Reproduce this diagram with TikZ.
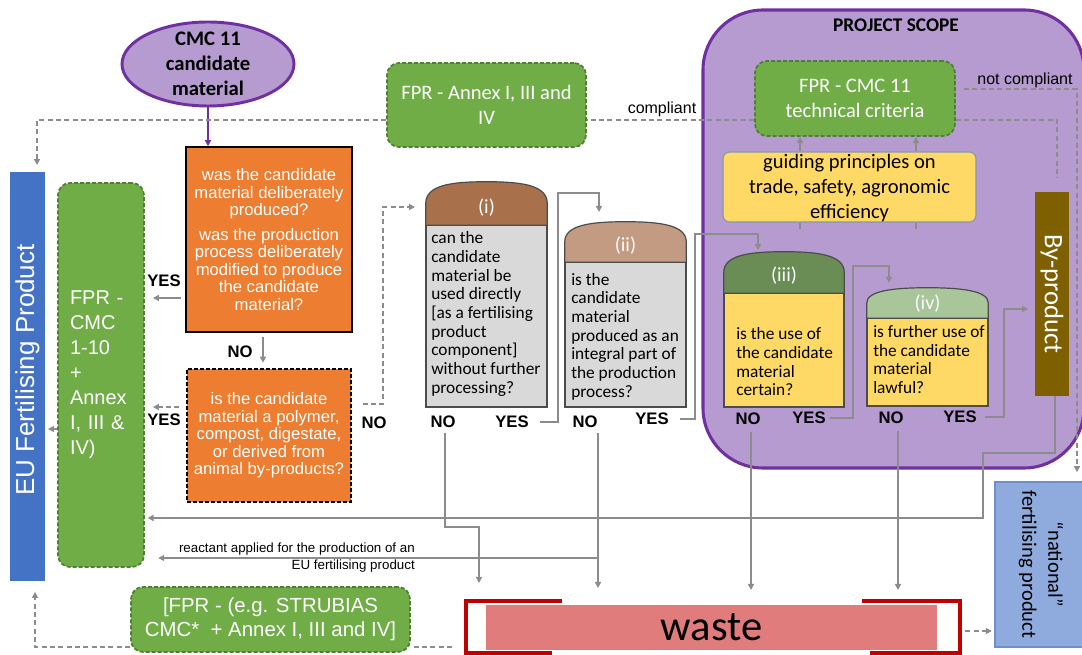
\documentclass[tikz,border=0pt]{standalone}
\usepackage{fontspec}
\setmainfont{Carlito}
\newfontfamily\arialf{Liberation Sans}
\usetikzlibrary{arrows.meta,shapes.geometric,calc}
\newcommand\myfs[2]{\fontsize{#1}{#2}\selectfont}
\definecolor{cpurpleL}{HTML}{B59BD0}
\definecolor{cpurpleD}{HTML}{7030A0}
\definecolor{corange}{HTML}{ED7D31}
\definecolor{cgreen}{HTML}{70AD47}
\definecolor{cgreenD}{HTML}{507E32}
\definecolor{cblue}{HTML}{4472C4}
\definecolor{cgray}{HTML}{8C8C8C}
\definecolor{cyellow}{HTML}{FFD966}
\definecolor{cguideB}{HTML}{8497B0}
\definecolor{cbrown}{HTML}{7F6000}
\definecolor{cnat}{HTML}{8FAADC}
\definecolor{cnatB}{HTML}{6E8FC8}
\definecolor{ccapA}{HTML}{A9714B}
\definecolor{ccapB}{HTML}{C39B83}
\definecolor{ccapC}{HTML}{6A8C55}
\definecolor{ccapD}{HTML}{A9C59A}
\definecolor{cbody}{HTML}{D9D9D9}
\definecolor{cpink}{HTML}{E07C7C}
\definecolor{cred}{HTML}{C00000}
\tikzset{
 gline/.style={draw=cgray, line width=1.3pt},
 arr/.style={-{Triangle[length=4.5pt,width=4.5pt]}},
 dline/.style={draw=cgray, line width=1.3pt, dash pattern=on 3.75pt off 2.5pt},
 gbox/.style={draw=cgreenD, fill=cgreen, line width=1.3pt, dash pattern=on 3pt off 1.5pt, rounded corners=9pt, text=white, align=center, inner sep=0pt},
 obox/.style={fill=corange, draw=black, line width=1.2pt, text=white, align=center, inner sep=0pt, font=\arialf\myfs{12.5}{13.1}},
 yn/.style={font=\arialf\bfseries\myfs{12.5}{14}, inner sep=0pt},
 capnode/.style={inner sep=0pt},
 caplbl/.style={text=white, font=\myfs{15}{18}, inner sep=0pt},
 capline/.style={draw=black!70, line width=0.9pt},
 qbody/.style={draw=black!70, line width=0.9pt, inner sep=0pt},
 qtext/.style={align=left, anchor=west, font=\myfs{13}{14}, inner sep=0pt},
 redbracket/.style={draw=cred, line width=3pt},
}
\newcommand\capshape[2]{%
 \draw[capline, fill=#2] (#1.south west) -- ($(#1.south west)!0.5!(#1.north west)$)
  .. controls ($(#1.north west)+(0,3)$) and ($(#1.north west)!0.22!(#1.north east)$) .. (#1.north)
  .. controls ($(#1.north east)!0.22!(#1.north west)$) and ($(#1.north east)+(0,3)$) .. ($(#1.south east)!0.5!(#1.north east)$)
  -- (#1.south east) -- cycle;}
\begin{document}
\begin{tikzpicture}[x=0.75pt,y=-0.75pt]
\useasboundingbox (0,0) rectangle (1082,655);
\fill[white] (0,0) rectangle (1082,655);

% project scope
\node[draw=cpurpleD, fill=cpurpleL, line width=2.3pt, rounded corners=45pt, minimum width=381*0.75pt, minimum height=458*0.75pt, inner sep=0pt] (scope) at (893.5,239) {};
\node[font=\bfseries\myfs{14.5}{17}, inner sep=0pt] (scopelbl) at (896,25) {PROJECT SCOPE};

% candidate ellipse
\node[ellipse, draw=cpurpleD, fill=cpurpleL, line width=2.2pt, minimum width=172*0.75pt, minimum height=84*0.75pt, inner sep=0pt] (cand) at (208,64) {};
\node[align=center, font=\bfseries\myfs{15.5}{18.75}, inner sep=0pt] (candtxt) at (cand.center) {CMC 11\\candidate\\material};

% orange questions
\node[obox, minimum width=166*0.75pt, minimum height=185*0.75pt] (q1) at (269,239.5) {was the candidate\\material deliberately\\produced?\\[5.6pt]was the production\\process deliberately\\modified to produce\\the candidate\\material?};
\node[obox, dash pattern=on 3pt off 1.5pt, line width=1.5pt, minimum width=164*0.75pt, minimum height=133*0.75pt] (q2) at (269,435.5) {is the candidate\\material a polymer,\\compost, digestate,\\or derived from\\animal by-products?};

% EU fertilising product bar
\node[fill=cblue, minimum width=35*0.75pt, minimum height=409*0.75pt, inner sep=0pt] (blue) at (27.5,376.5) {};
\node[rotate=90, text=white, font=\arialf\myfs{19.5}{24}, inner sep=0pt] (bluetxt) at (27.5,370) {EU Fertilising Product};

% green boxes
\node[gbox, minimum width=86*0.75pt, minimum height=384*0.75pt, align=left, text width=62*0.75pt, font=\arialf\myfs{15}{18.75}] (fpr10) at (101,375) {FPR -\\CMC\\1-10\\+\\Annex\\I, III \&\\IV)};
\node[gbox, minimum width=199*0.75pt, minimum height=84*0.75pt, font=\myfs{15.4}{18.75}] (annex) at (486.5,105) {FPR - Annex I, III and\\IV};
\node[gbox, minimum width=200*0.75pt, minimum height=75*0.75pt, font=\myfs{15.4}{18.75}] (cmc11) at (855,98.5) {FPR - CMC 11\\technical criteria};
\node[gbox, minimum width=279*0.75pt, minimum height=65*0.75pt, font=\arialf\myfs{15.3}{18}] (strub) at (270.5,619.5) {[FPR - (e.g. STRUBIAS\\CMC*\ \ + Annex I, III and IV]};

% guiding principles
\node[draw=cguideB, fill=cyellow, line width=0.8pt, rounded corners=5pt, minimum width=253*0.75pt, minimum height=70*0.75pt, inner sep=0pt] (guide) at (849.5,187) {};
\node[font=\myfs{15.4}{18.75}, align=center, inner sep=0pt] (guidetxt) at (849.5,188) {guiding principles on\\trade, safety, agronomic\\efficiency};

% by-product
\node[fill=cbrown, minimum width=34*0.75pt, minimum height=204*0.75pt, inner sep=0pt] (byprod) at (1052,294) {};
\node[rotate=-90, text=white, font=\myfs{20}{24}, inner sep=0pt] (byptxt) at (byprod.center) {By-product};

% national
\node[draw=cnatB, fill=cnat, line width=0.8pt, minimum width=91*0.75pt, minimum height=165*0.75pt, inner sep=0pt] (natl) at (1040.5,564.5) {};
\node[rotate=-90, font=\myfs{15.4}{19.5}, align=center, inner sep=0pt] (natltxt) at (1041,564.5) {“national”\\fertilising product};

% cylinders (i)-(iv)
\node[qbody, fill=cbody, minimum width=121*0.75pt, minimum height=182*0.75pt] (b1) at (486.5,316) {};
\node[capnode, minimum width=121*0.75pt, minimum height=43*0.75pt] (c1) at (486.5,203.5) {};
\capshape{c1}{ccapA}
\node[caplbl] (l1) at (486.5,208) {(i)};
\node[qtext] (t1) at (431,314) {can the\\candidate\\material be\\used directly\\{}[as a fertilising\\product\\component]\\without further\\processing?};

\node[qbody, fill=cbody, minimum width=121*0.75pt, minimum height=145*0.75pt] (b2) at (625.5,334.5) {};
\node[capnode, minimum width=121*0.75pt, minimum height=40*0.75pt] (c2) at (625.5,242) {};
\capshape{c2}{ccapB}
\node[caplbl] (l2) at (625.5,246) {(ii)};
\node[qtext] (t2) at (571,336.5) {is the\\candidate\\material\\produced as an\\integral part of\\the production\\process?};

\node[qbody, fill=cyellow, minimum width=120*0.75pt, minimum height=114*0.75pt] (b3) at (784,350) {};
\node[capnode, minimum width=120*0.75pt, minimum height=41*0.75pt] (c3) at (784,272.5) {};
\capshape{c3}{ccapC}
\node[caplbl] (l3) at (784,276) {(iii)};
\node[qtext] (t3) at (736,362) {is the use of\\the candidate\\material\\certain?};

\node[qbody, fill=cyellow, minimum width=121*0.75pt, minimum height=88*0.75pt] (b4) at (927.5,362) {};
\node[capnode, minimum width=121*0.75pt, minimum height=30*0.75pt] (c4) at (927.5,303) {};
\capshape{c4}{ccapD}
\node[caplbl] (l4) at (927.5,304) {(iv)};
\node[qtext] (t4) at (873,359.5) {is further use of\\the candidate\\material\\lawful?};

% waste
\node[fill=cpink, minimum width=451*0.75pt, minimum height=45*0.75pt, inner sep=0pt, font=\myfs{32}{36}] (waste) at (711.5,627.5) {waste};
\draw[redbracket] (562,601) -- (466,601) -- (466,653) -- (552,653);
\draw[redbracket] (862,601) -- (960,601) -- (960,653) -- (870,653);

% YES / NO labels
\node[yn] (y1) at (164,281) {YES};
\node[yn] (y2) at (164,420) {YES};
\node[yn] (n1) at (240,352) {NO};
\node[yn] (n2) at (374,423) {NO};
\node[yn] (nA) at (443,422) {NO};
\node[yn] (yA) at (512,422) {YES};
\node[yn] (nB) at (585,422) {NO};
\node[yn] (yB) at (652,419) {YES};
\node[yn] (nC) at (748,419) {NO};
\node[yn] (yC) at (809,418) {YES};
\node[yn] (nD) at (891,418) {NO};
\node[yn] (yD) at (960,417) {YES};

% text labels
\node[font=\arialf\myfs{12}{14}, inner sep=0pt] (compl) at (662,109) {compliant};
\node[font=\arialf\myfs{12}{14}, inner sep=0pt] (ncompl) at (1025,80) {not compliant};
\node[font=\arialf\myfs{10}{12.75}, align=right, anchor=east, inner sep=0pt] (react) at (415,557.5) {reactant applied for the production of an\\EU fertilising product};

% connectors
\draw[draw=cpurpleD, line width=1.5pt, arr] (cand.south) -- (cand.south |- q1.north);
\draw[gline, arr, shorten <=3pt, shorten >=6pt] (q1.west |- 0,298) -- (fpr10.east |- 0,298);
\draw[gline, arr, shorten <=3pt, shorten >=4pt] (263,0 |- q1.south) -- (263,0 |- q2.north);
\draw[dline, arr, shorten <=5pt, shorten >=6pt] (q2.west |- 0,407) -- (fpr10.east |- 0,407);
\draw[dline, arr, shorten <=8pt, shorten >=8pt] (q2.east |- 0,404) -- (383,404) -- (383,207) -- (c1.west |- 0,207);

\draw[gline, arr, shorten <=8pt] (yA.east) -| (558,193) -| (599,212);
\draw[gline, arr, shorten <=8pt] (yB.east) -| (695,234) -| (758,250);
\draw[gline, arr, shorten <=3pt] (yC.east) -| (853,266) -| (889,283);
\draw[gline, arr, shorten <=6pt, shorten >=5pt] (yD.east) -| (1004,309) -- (byprod.west |- 0,309);
\draw[gline, arr, shorten >=2pt] (1055,0 |- byprod.south) -- (1055,453) -| (983,518) -- (fpr10.east |- 0,518);

\draw[gline, arr, shorten <=4pt] (445,0 |- nA.south) -- (445,527) -| (479,583);
\draw[gline, arr, shorten <=4pt] (598,0 |- nB.south) -- (598,588);
\draw[gline, arr, shorten >=10pt] (598,558) -- (fpr10.east |- 0,558);
\draw[gline, arr, shorten <=5pt] (751,0 |- nC.south) -- (751,590);
\draw[gline, arr, shorten <=5pt] (898,0 |- nD.south) -- (898,590);

\draw[gline, arr] (800,0 |- guide.north) -- (800,0 |- cmc11.south);
\draw[gline, arr] (916,0 |- guide.north) -- (916,0 |- cmc11.south);
\draw[gline] (800,0 |- guide.south) -- ++(0,6);
\draw[gline] (916,0 |- guide.south) -- ++(0,6);

\draw[dline] (cmc11.west |- 0,120) -- (annex.east |- 0,120);
\draw[dline, arr, shorten >=5pt] (annex.west |- 0,120) -| (37,0 |- blue.north);
\draw[dline, arr, shorten <=6pt, shorten >=7pt] (cmc11.east |- 0,89) -| (1077,0 |- natl.north);
\draw[dline, shorten >=10pt] (cmc11.east |- 0,120) -| (1057,0 |- byprod.north);
\draw[dline, arr, shorten >=2pt] (fpr10.west |- 0,429) -- (blue.east |- 0,429);
\draw[dline, arr, shorten <=21pt, shorten >=2pt] (waste.east |- 0,631) -- (natl.west |- 0,631);
\draw[dline, arr, shorten >=8pt] (strub.west |- 0,647) -| (35,0 |- blue.south);
\draw[dline, shorten <=2pt, shorten >=23pt] (strub.east |- 0,647) -- (waste.west |- 0,647);
\end{tikzpicture}
\end{document}
